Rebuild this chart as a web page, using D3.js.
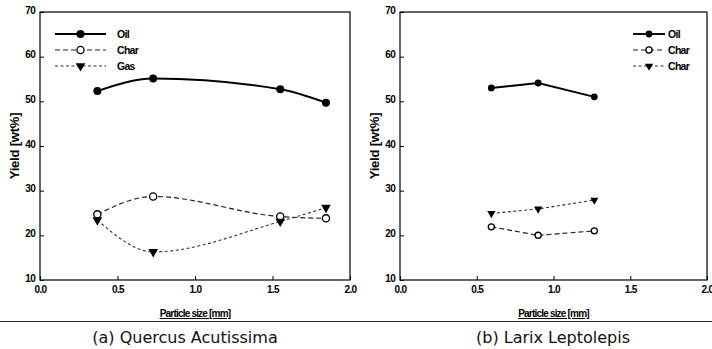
<!DOCTYPE html>
<html><head><meta charset="utf-8">
<script src="https://cdn.jsdelivr.net/npm/d3@7"></script>
<style>body{margin:0;background:#fff}svg{display:block}</style>
</head><body>
<svg id="c" width="712" height="349"></svg>
<script>
// ---- data ----
const xTicks = [0.0, 0.5, 1.0, 1.5, 2.0];
const yTicks = [10, 20, 30, 40, 50, 60, 70];
// panel (a) Quercus Acutissima
const sizeA = [0.37, 0.73, 1.55, 1.845];
const oilA  = [52.3, 55.1, 52.7, 49.7];
const charA = [24.7, 28.7, 24.2, 23.8];
const gasA  = [23.4, 16.3, 23.1, 26.2];
const namesA = ["Oil", "Char", "Gas"];
// panel (b) Larix Leptolepis
const sizeB = [0.595, 0.90, 1.266];
const oilB  = [53.0, 54.1, 51.0];
const charB = [21.9, 20.0, 21.0];
const gasB  = [24.9, 25.9, 27.9];
const namesB = ["Oil", "Char", "Char"];
const captions = ["(a) Quercus Acutissima", "(b) Larix Leptolepis"];

const svg = d3.select("#c");
const tickFont = "Liberation Sans, Arial, sans-serif";

const panels = [
  {x0:40, x1:350, sizes:sizeA, series:[oilA,charA,gasA], names:namesA, curve:d3.curveMonotoneX,
   legX:55, legW:51, legTextX:117, cap:captions[0], capX:185, ms:1},
  {x0:400, x1:707, sizes:sizeB, series:[oilB,charB,gasB], names:namesB, curve:d3.curveLinear,
   legX:633, legW:32, legTextX:668, cap:captions[1], capX:553, ms:0.85}
];
const styles = [
  {dash:null, w:1.9, col:"#000", marker:"dot"},
  {dash:"5,3", w:1.2, col:"#222", marker:"circle"},
  {dash:"3,2.5", w:1.1, col:"#333", marker:"tri"}
];
const yTop = 12, yBot = 280;

function drawMarker(g, type, cx, cy, k) {
  if (type === "dot") g.append("circle").attr("cx",cx).attr("cy",cy).attr("r",4*k).attr("fill","#000");
  else if (type === "circle") g.append("circle").attr("cx",cx).attr("cy",cy).attr("r",3.6*k).attr("fill","#fff").attr("stroke","#000").attr("stroke-width",1.3);
  else g.append("path").attr("d", d3.symbol(d3.symbolTriangle, 40*k*k)()).attr("transform",`translate(${cx},${cy}) rotate(180)`).attr("fill","#000");
}

panels.forEach(p => {
  const x = d3.scaleLinear().domain([0,2]).range([p.x0,p.x1]);
  const y = d3.scaleLinear().domain([10,70]).range([yBot,yTop]);
  const g = svg.append("g");
  // frame
  g.append("rect").attr("x",p.x0).attr("y",yTop).attr("width",p.x1-p.x0).attr("height",yBot-yTop)
    .attr("fill","none").attr("stroke","#000").attr("stroke-width",1.2);
  // axes with inward ticks
  const xa = g.append("g").attr("transform",`translate(0,${yBot})`)
    .call(d3.axisBottom(x).tickValues(xTicks).tickFormat(d3.format(".1f")).tickSizeInner(-4).tickSizeOuter(0).tickPadding(7));
  const ya = g.append("g").attr("transform",`translate(${p.x0},0)`)
    .call(d3.axisLeft(y).tickValues(yTicks).tickSizeInner(-4).tickSizeOuter(0).tickPadding(5));
  [xa,ya].forEach(a => {
    a.select(".domain").remove();
    a.selectAll("text").attr("font-family",tickFont).attr("font-weight","bold").attr("font-size",10).attr("fill","#000").attr("letter-spacing","-0.7");
  });
  xa.selectAll("text").attr("dy","0.55em");
  ya.selectAll("text").attr("dy","0.1em");
  // axis titles
  g.append("text").attr("transform",`translate(${p.x0-21},${(yTop+yBot)/2}) rotate(-90)`).attr("text-anchor","middle")
    .attr("font-family",tickFont).attr("font-weight","bold").attr("font-size",13).attr("letter-spacing","-0.2").text("Yield [wt%]");
  g.append("text").attr("x",(p.x0+p.x1)/2).attr("y",317).attr("text-anchor","middle")
    .attr("font-family",tickFont).attr("font-weight","bold").attr("font-size",10).attr("letter-spacing","-0.8")
    .attr("text-decoration","underline").text("Particle size [mm]");
  // series
  p.series.forEach((vals,i) => {
    const s = styles[i];
    const pts = p.sizes.map((d,j)=>[x(d), y(vals[j])]);
    g.append("path").attr("d", d3.line().curve(p.curve)(pts)).attr("fill","none")
      .attr("stroke",s.col).attr("stroke-width",s.w).attr("stroke-dasharray",s.dash);
    pts.forEach(pt => drawMarker(g, s.marker, pt[0], pt[1], p.ms));
    // legend
    const ly = 34 + i*16;
    g.append("line").attr("x1",p.legX).attr("x2",p.legX+p.legW).attr("y1",ly).attr("y2",ly)
      .attr("stroke",s.col).attr("stroke-width",s.w).attr("stroke-dasharray",s.dash);
    drawMarker(g, s.marker, p.legX+p.legW/2, ly, p.ms);
    g.append("text").attr("x",p.legTextX).attr("y",ly+3.5).attr("font-family",tickFont).attr("font-weight","bold")
      .attr("font-size",10.5).attr("letter-spacing","-0.7").text(p.names[i]);
  });
  // caption
  g.append("text").attr("x",p.capX).attr("y",343).attr("text-anchor","middle")
    .attr("font-family","DejaVu Sans, sans-serif").attr("font-size",16).attr("fill","#111").text(p.cap);
});
// separator line
svg.append("line").attr("x1",0).attr("x2",712).attr("y1",321.5).attr("y2",321.5).attr("stroke","#222").attr("stroke-width",1.2);
</script>
</body></html>
